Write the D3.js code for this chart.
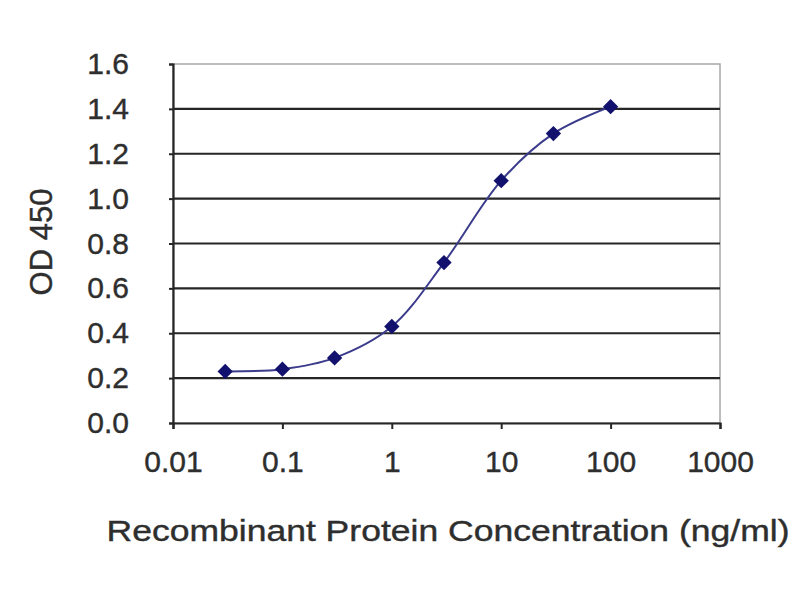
<!DOCTYPE html>
<html>
<head>
<meta charset="utf-8">
<script src="https://cdn.jsdelivr.net/npm/d3@7/dist/d3.min.js"></script>
<style>
  body { margin: 0; background: #fff; }
  text { font-family: "Liberation Sans", Arial, sans-serif; fill: #2e2e2e; }
</style>
</head>
<body>
<div id="chart"></div>
<script>
const concentration = [0.03, 0.1, 0.3, 1, 3, 10, 30, 100];
const od450 = [0.23, 0.24, 0.29, 0.43, 0.715, 1.08, 1.29, 1.41];
const xTicks = [0.01, 0.1, 1, 10, 100, 1000];
const yTicks = [0, 0.2, 0.4, 0.6, 0.8, 1.0, 1.2, 1.4, 1.6];

const width = 800;
const height = 600;
const margin = { top: 64, right: 80, bottom: 177, left: 173 };

const svg = d3.select("#chart").append("svg")
  .attr("width", width)
  .attr("height", height);

const x = d3.scaleLog()
  .domain([0.01, 1000])
  .range([margin.left, width - margin.right]);

const y = d3.scaleLinear()
  .domain([0, 1.6])
  .range([height - margin.bottom, margin.top]);

// plot frame (top/right lighter)
svg.append("rect")
  .attr("x", margin.left)
  .attr("y", margin.top)
  .attr("width", x.range()[1] - margin.left)
  .attr("height", y.range()[0] - margin.top)
  .attr("fill", "#fff")
  .attr("stroke", "#a8a8a8")
  .attr("stroke-width", 1.5);

// gridlines
svg.append("g")
  .selectAll("line")
  .data(yTicks.filter((d) => d > 0 && d < 1.6))
  .join("line")
  .attr("x1", margin.left)
  .attr("x2", x.range()[1])
  .attr("y1", (d) => y(d))
  .attr("y2", (d) => y(d))
  .attr("stroke", "#262626")
  .attr("stroke-width", 2.2);

// y axis
const yAxis = svg.append("g")
  .attr("transform", `translate(${margin.left},0)`)
  .call(d3.axisLeft(y).tickValues(yTicks).tickFormat(d3.format(".1f")).tickSize(4).tickPadding(40));
yAxis.select(".domain").attr("stroke", "#262626").attr("stroke-width", 2.2);
yAxis.selectAll(".tick line").attr("stroke", "#262626").attr("stroke-width", 2);
yAxis.selectAll("text").attr("fill", "#2e2e2e").style("font-size", "30px")
  .attr("stroke", "#2e2e2e").attr("stroke-width", 0.4);

// x axis
const xAxis = svg.append("g")
  .attr("transform", `translate(0,${y(0)})`)
  .call(d3.axisBottom(x).tickValues(xTicks).tickFormat(d3.format("~g")).tickSize(6).tickPadding(22));
xAxis.select(".domain").attr("stroke", "#262626").attr("stroke-width", 2.2);
xAxis.selectAll(".tick line").attr("stroke", "#262626").attr("stroke-width", 2);
xAxis.selectAll("text").attr("fill", "#2e2e2e").style("font-size", "30px")
  .attr("stroke", "#2e2e2e").attr("stroke-width", 0.4);

// axis titles
svg.append("text")
  .attr("transform", "translate(52,242) rotate(-90)")
  .attr("text-anchor", "middle")
  .style("font-size", "31px")
  .attr("stroke", "#2e2e2e").attr("stroke-width", 0.4)
  .text("OD 450");

svg.append("text")
  .attr("x", 448)
  .attr("y", 541)
  .attr("text-anchor", "middle")
  .style("font-size", "30px")
  .attr("stroke", "#2e2e2e").attr("stroke-width", 0.4)
  .attr("textLength", 683)
  .attr("lengthAdjust", "spacingAndGlyphs")
  .text("Recombinant Protein Concentration (ng/ml)");

// fitted curve
const points = concentration.map((c, i) => [c, od450[i]]);
const line = d3.line()
  .x((d) => x(d[0]))
  .y((d) => y(d[1]))
  .curve(d3.curveCatmullRom.alpha(0.5));

svg.append("path")
  .attr("d", line(points))
  .attr("fill", "none")
  .attr("stroke", "#3c3c8c")
  .attr("stroke-width", 2);

// markers
svg.append("g")
  .selectAll("path")
  .data(points)
  .join("path")
  .attr("transform", (d) => `translate(${x(d[0])},${y(d[1])})`)
  .attr("d", d3.symbol(d3.symbolDiamond2, 150))
  .attr("fill", "#12126e");
</script>
</body>
</html>
